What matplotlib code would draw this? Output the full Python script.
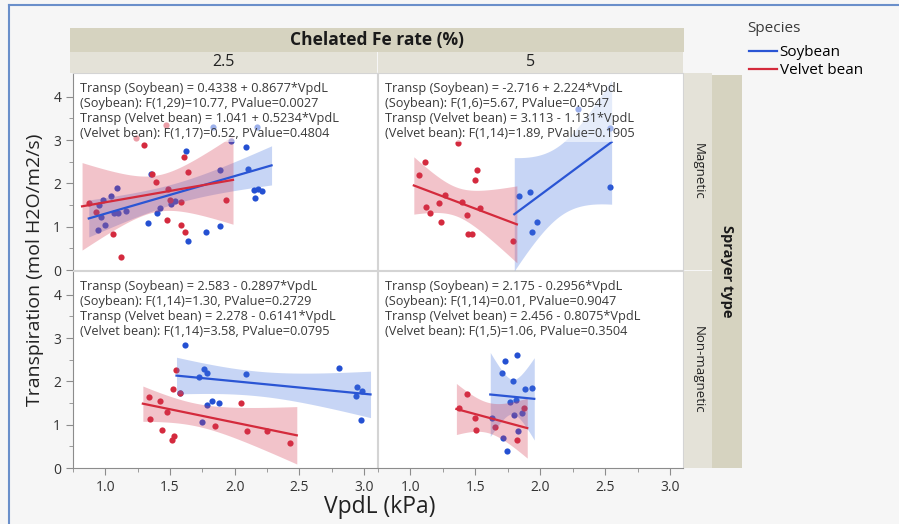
import numpy as np
import matplotlib.pyplot as plt
from matplotlib.lines import Line2D

plt.rcParams['font.family'] = ['Open Sans', 'DejaVu Sans']

species = ['Soybean', 'Velvet bean']
fe_rates = ['2.5', '5']
sprayers = ['Magnetic', 'Non-magnetic']

# Chelated Fe 2.5 %, Magnetic sprayer
soy_25_mag_x = [1.09, 1.04, 0.98, 0.95, 0.965, 0.94, 0.995, 1.07, 1.10, 1.16, 1.35, 1.33, 1.40, 1.42, 1.51,
                1.54, 1.62, 1.64, 1.78, 1.89, 1.885, 2.085, 2.105, 2.15, 2.18, 2.21, 2.16, 1.83, 1.97, 2.17]
soy_25_mag_y = [1.90, 1.72, 1.62, 1.49, 1.23, 0.92, 1.05, 1.32, 1.32, 1.37, 2.22, 1.09, 1.31, 1.43, 1.52,
                1.59, 2.74, 0.66, 0.87, 1.01, 2.31, 2.83, 2.33, 1.85, 1.86, 1.83, 1.66, 3.30, 2.97, 3.31]
vel_25_mag_x = [1.47, 1.24, 1.30, 1.61, 1.364, 1.64, 1.395, 1.485, 1.50, 1.585, 0.874, 0.93, 1.93, 1.477,
                1.585, 1.618, 1.059, 1.118]
vel_25_mag_y = [3.36, 3.05, 2.89, 2.62, 2.22, 2.26, 2.03, 1.88, 1.62, 1.58, 1.55, 1.35, 1.62, 1.15,
                1.05, 0.87, 0.83, 0.31]

# Chelated Fe 5 %, Magnetic sprayer
soy_5_mag_x = [1.833, 1.92, 1.977, 1.94, 2.536, 2.29, 2.54]
soy_5_mag_y = [1.72, 1.80, 1.11, 0.88, 1.92, 3.71, 3.27]
vel_5_mag_x = [1.37, 1.11, 1.064, 1.515, 1.497, 1.27, 1.397, 1.22, 1.538, 1.12, 1.15, 1.433, 1.233,
               1.444, 1.474, 1.787]
vel_5_mag_y = [2.93, 2.50, 2.20, 2.32, 2.07, 1.73, 1.57, 1.54, 1.43, 1.46, 1.32, 1.28, 1.11,
               0.84, 0.84, 0.68]

# Chelated Fe 2.5 %, Non-magnetic sprayer
soy_25_non_x = [1.618, 1.764, 1.785, 1.723, 2.09, 2.805, 2.946, 2.987, 2.938, 2.977, 1.823, 1.882,
                1.782, 1.751, 1.577]
soy_25_non_y = [2.85, 2.29, 2.19, 2.11, 2.17, 2.32, 1.88, 1.77, 1.67, 1.12, 1.55, 1.49,
                1.45, 1.07, 1.73]
vel_25_non_x = [1.55, 1.526, 1.58, 1.34, 1.426, 1.477, 1.349, 1.441, 1.533, 1.513, 1.846, 2.046,
                2.097, 2.246, 2.428]
vel_25_non_y = [2.27, 1.82, 1.73, 1.63, 1.54, 1.30, 1.14, 0.87, 0.75, 0.64, 0.96, 1.49,
                0.85, 0.85, 0.58]

# Chelated Fe 5 %, Non-magnetic sprayer
soy_5_non_x = [1.82, 1.728, 1.703, 1.79, 1.88, 1.94, 1.77, 1.815, 1.80, 1.858, 1.628, 1.826, 1.71, 1.744]
soy_5_non_y = [2.61, 2.46, 2.20, 2.00, 1.82, 1.85, 1.52, 1.56, 1.23, 1.26, 1.16, 0.86, 0.70, 0.39]
vel_5_non_x = [1.436, 1.377, 1.497, 1.508, 1.654, 1.818, 1.877]
vel_5_non_y = [1.71, 1.39, 1.15, 0.88, 0.94, 0.65, 1.38]

# fitted lines: intercept, slope, x range of fit, t(0.975, df)
soy_fits = {(0, 0): (0.4338, 0.8677, 0.872, 2.285, 2.045), (0, 1): (-2.716, 2.224, 1.80, 2.55, 2.447),
            (1, 0): (2.583, -0.2897, 1.55, 3.05, 2.145), (1, 1): (2.175, -0.2956, 1.615, 1.954, 2.145)}
vel_fits = {(0, 0): (1.041, 0.5234, 0.82, 1.987, 2.110), (0, 1): (3.113, -1.131, 1.026, 1.82, 2.145),
            (1, 0): (2.278, -0.6141, 1.29, 2.48, 2.145), (1, 1): (2.456, -0.8075, 1.354, 1.90, 2.571)}

notes = {
    (0, 0): ['Transp (Soybean) = 0.4338 + 0.8677*VpdL',
             '(Soybean): F(1,29)=10.77, PValue=0.0027',
             'Transp (Velvet bean) = 1.041 + 0.5234*VpdL',
             '(Velvet bean): F(1,17)=0.52, PValue=0.4804'],
    (0, 1): ['Transp (Soybean) = -2.716 + 2.224*VpdL',
             '(Soybean): F(1,6)=5.67, PValue=0.0547',
             'Transp (Velvet bean) = 3.113 - 1.131*VpdL',
             '(Velvet bean): F(1,14)=1.89, PValue=0.1905'],
    (1, 0): ['Transp (Soybean) = 2.583 - 0.2897*VpdL',
             '(Soybean): F(1,14)=1.30, PValue=0.2729',
             'Transp (Velvet bean) = 2.278 - 0.6141*VpdL',
             '(Velvet bean): F(1,14)=3.58, PValue=0.0795'],
    (1, 1): ['Transp (Soybean) = 2.175 - 0.2956*VpdL',
             '(Soybean): F(1,14)=0.01, PValue=0.9047',
             'Transp (Velvet bean) = 2.456 - 0.8075*VpdL',
             '(Velvet bean): F(1,5)=1.06, PValue=0.3504'],
}

soy_pts = {(0, 0): (soy_25_mag_x, soy_25_mag_y), (0, 1): (soy_5_mag_x, soy_5_mag_y),
           (1, 0): (soy_25_non_x, soy_25_non_y), (1, 1): (soy_5_non_x, soy_5_non_y)}
vel_pts = {(0, 0): (vel_25_mag_x, vel_25_mag_y), (0, 1): (vel_5_mag_x, vel_5_mag_y),
           (1, 0): (vel_25_non_x, vel_25_non_y), (1, 1): (vel_5_non_x, vel_5_non_y)}

blue_pt, blue_line, blue_band = '#2450d2', '#2a55d4', '#4876de'
red_pt, red_line, red_band = '#d42a3e', '#d42a3c', '#d43a52'

W, H = 899, 524
def fx(px):
    return px / W
def fy(py):
    return 1 - py / H

fig = plt.figure(figsize=(W / 100, H / 100), dpi=100)
fig.patch.set_facecolor('#f6f6f6')

col_px = [(73, 377), (378, 683)]
row_px = [(73, 270), (271, 468)]


def draw_group(ax, pts, fit, pc, lc, bc):
    x = np.array(pts[0])
    y = np.array(pts[1])
    a, b, x0, x1, t = fit
    ax.scatter(x, y, s=20, color=pc, linewidths=0, zorder=2)
    # confidence band of the fit
    resid = y - (a + b * x)
    s = np.sqrt(np.sum(resid ** 2) / (len(x) - 2))
    xm = x.mean()
    sxx = np.sum((x - xm) ** 2)
    xs = np.linspace(x0, x1, 100)
    yh = a + b * xs
    se = s * np.sqrt(1 / len(x) + (xs - xm) ** 2 / sxx)
    ax.fill_between(xs, yh - t * se, yh + t * se, color=bc, alpha=0.3, linewidth=0, zorder=3)
    ax.plot(xs, yh, color=lc, lw=1.6, zorder=4)


for r in range(2):
    for c in range(2):
        x0, x1 = col_px[c]
        y0, y1 = row_px[r]
        ax = fig.add_axes([fx(x0), fy(y1), (x1 - x0) / W, (y1 - y0) / H])
        ax.set_facecolor('white')
        draw_group(ax, soy_pts[(r, c)], soy_fits[(r, c)], blue_pt, blue_line, blue_band)
        draw_group(ax, vel_pts[(r, c)], vel_fits[(r, c)], red_pt, red_line, red_band)

        ax.text(0.022, 0.952, '\n'.join(notes[(r, c)]), transform=ax.transAxes, ha='left', va='top',
                fontsize=9.2, color='#3a3a3a', linespacing=1.2, zorder=6,
                bbox=dict(boxstyle='square,pad=0.1', fc='white', ec='none', alpha=0.55))

        ax.set_xlim(0.75, 3.1)
        ax.set_ylim(0, 4.55)
        ax.set_xticks([1.0, 1.5, 2.0, 2.5, 3.0])
        ax.set_xticks(np.arange(0.75, 3.1, 0.25), minor=True)
        ax.set_yticks([0, 1, 2, 3, 4])
        ax.set_yticks(np.arange(0.5, 4.5, 1.0), minor=True)
        for sp in ax.spines.values():
            sp.set_color('#d4d4d4')
            sp.set_linewidth(0.8)
        ax.tick_params(which='major', length=5, color='#8c8c8c', labelsize=10, labelcolor='#333333')
        ax.tick_params(which='minor', length=3, color='#8c8c8c')
        if c == 0:
            ax.spines['left'].set_color('#8c8c8c')
        else:
            ax.tick_params(axis='y', which='both', left=False, labelleft=False)
        if r == 1:
            ax.spines['bottom'].set_color('#8c8c8c')
            ax.set_xticklabels(['1.0', '1.5', '2.0', '2.5', '3.0'])
        else:
            ax.tick_params(axis='x', which='both', bottom=False, labelbottom=False)

# column header strips
hdr = fig.add_axes([fx(70), fy(52), (684 - 70) / W, 24 / H])
hdr.set_facecolor('#d6d3c0')
hdr.set_xticks([]); hdr.set_yticks([])
for sp in hdr.spines.values():
    sp.set_visible(False)
hdr.text(0.5, 0.5, 'Chelated Fe rate (%)', ha='center', va='center', fontsize=12.5,
         fontweight='bold', color='#1a1a1a', transform=hdr.transAxes)

for c in range(2):
    x0, x1 = col_px[c]
    if c == 0:
        x0 = 70
    st = fig.add_axes([fx(x0), fy(73), (x1 - x0) / W, 21 / H])
    st.set_facecolor('#e4e2d8')
    st.set_xticks([]); st.set_yticks([])
    for sp in st.spines.values():
        sp.set_visible(False)
    st.text(0.5, 0.5, fe_rates[c], ha='center', va='center', fontsize=11.5, color='#222222',
            transform=st.transAxes)

# row strips
for r in range(2):
    y0, y1 = row_px[r]
    st = fig.add_axes([fx(684), fy(y1), 28 / W, (y1 - y0) / H])
    st.set_facecolor('#e4e2d8')
    st.set_xticks([]); st.set_yticks([])
    for sp in st.spines.values():
        sp.set_visible(False)
    st.text(0.5, 0.5, sprayers[r], ha='center', va='center', fontsize=9.5, rotation=270,
            color='#222222', transform=st.transAxes)

spr = fig.add_axes([fx(712), fy(468), 30 / W, (468 - 75) / H])
spr.set_facecolor('#d6d3c0')
spr.set_xticks([]); spr.set_yticks([])
for sp in spr.spines.values():
    sp.set_visible(False)
spr.text(0.5, 0.5, 'Sprayer type', ha='center', va='center', fontsize=10.5, rotation=270,
         fontweight='bold', color='#1a1a1a', transform=spr.transAxes)

# axis titles
fig.text(fx(35), fy(270), 'Transpiration (mol H2O/m2/s)', rotation=90, ha='center', va='center',
         fontsize=14, color='#222222')
fig.text(fx(380), fy(507), 'VpdL (kPa)', ha='center', va='center', fontsize=16.5, color='#222222')

# legend
fig.text(fx(747), fy(28), 'Species', ha='left', va='center', fontsize=11, color='#3a3a3a')
handles = [Line2D([], [], color=blue_line, lw=1.6), Line2D([], [], color=red_line, lw=1.6)]
fig.legend(handles, species, loc='upper left', bbox_to_anchor=(fx(749), fy(45)),
           frameon=False, fontsize=11, handlelength=1.8, handletextpad=0.2,
           labelspacing=0.2, borderaxespad=0, borderpad=0)

# screenshot selection border
fig.add_artist(Line2D([fx(9), fx(9)], [0, fy(5)], transform=fig.transFigure, color='#6a8fca', lw=1.5))
fig.add_artist(Line2D([fx(9), 1], [fy(5), fy(5)], transform=fig.transFigure, color='#6a8fca', lw=1.5))

fig.savefig('out.png', dpi=100, facecolor=fig.get_facecolor())
